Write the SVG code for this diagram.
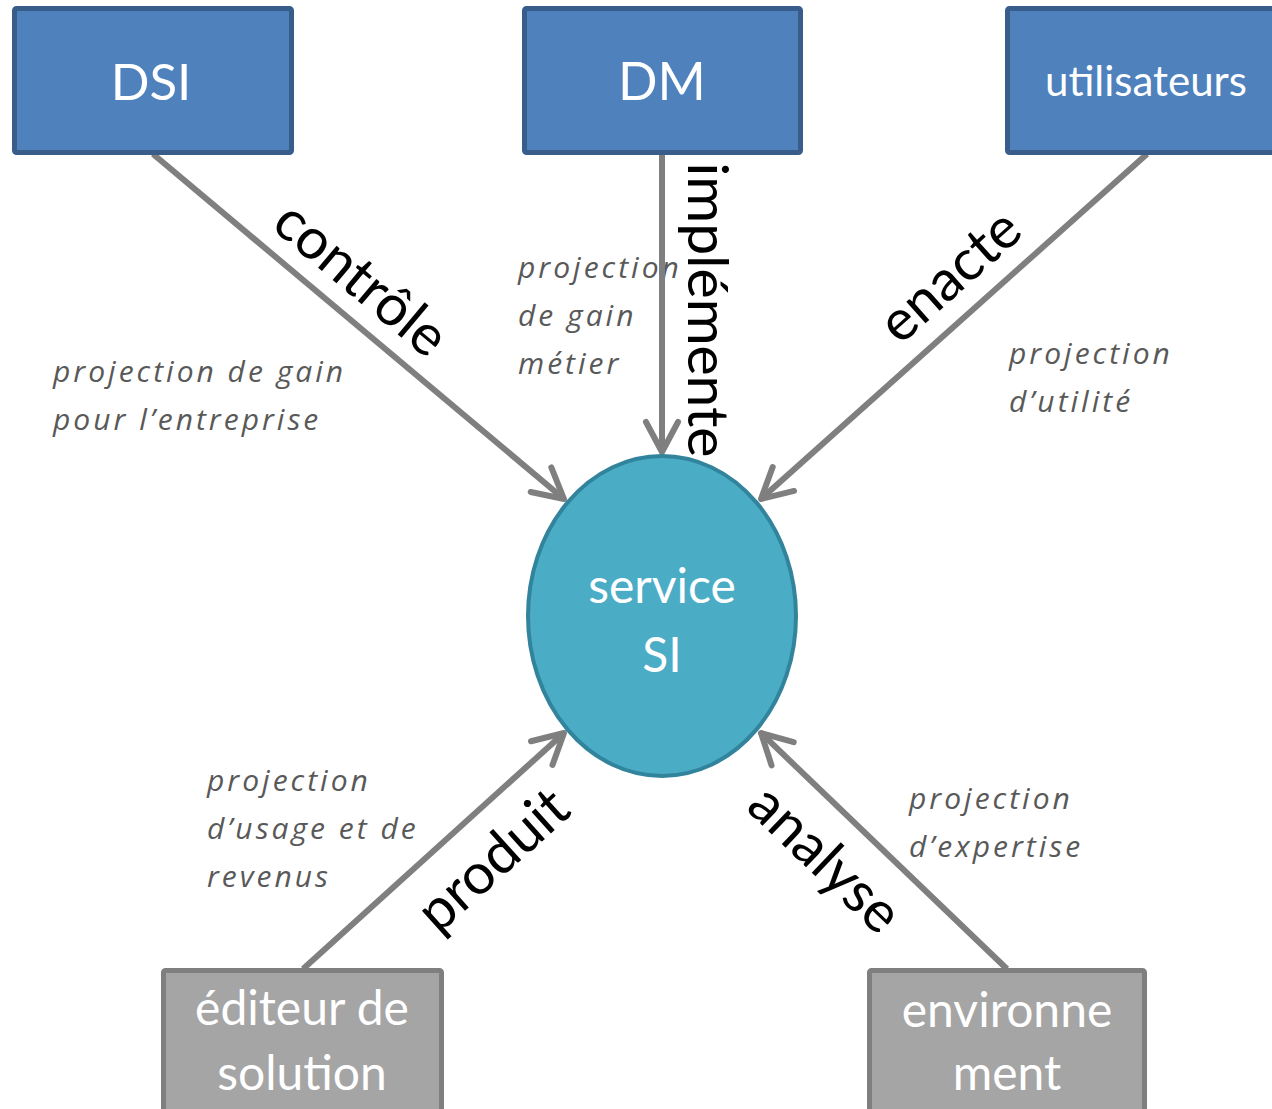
<svg xmlns="http://www.w3.org/2000/svg" width="1272" height="1109" viewBox="0 0 1272 1109">
  <style>
    .blue { fill: #4f81bd; stroke: #385d8a; stroke-width: 5; }
    .grey { fill: #a5a5a5; stroke: #7f7f7f; stroke-width: 5; }
    .core { fill: #4bacc6; stroke: #31849b; stroke-width: 4; }
    .node-text { font-family: Lato, "Liberation Sans", sans-serif; fill: #ffffff; text-anchor: middle; }
    .edge { stroke: #7f7f7f; stroke-width: 6; fill: none; }
    .verb { font-family: Lato, "Liberation Sans", sans-serif; font-size: 57px; fill: #000000; text-anchor: middle; }
    .note { font-family: "Open Sans", "Liberation Sans", sans-serif; font-style: italic; font-size: 30px; letter-spacing: 3px; fill: #595959; }
  </style>
  <defs>
    <marker id="chevron" markerUnits="userSpaceOnUse" markerWidth="60" markerHeight="60" refX="0" refY="0" viewBox="-40 -30 60 60" orient="auto" overflow="visible">
      <path d="M -30,-16 L 0,0 L -30,16" fill="none" stroke="#7f7f7f" stroke-width="6" stroke-linecap="round" stroke-linejoin="round"/>
    </marker>
  </defs>

  <!-- edge labels (behind the central ellipse) -->
  <g id="labels">
    <text class="verb" transform="translate(361,279) rotate(40)" y="19">contrôle</text>
    <text class="verb" transform="translate(707,310) rotate(90)" y="19">implémente</text>
    <text class="verb" transform="translate(950,276) rotate(-41.7)" y="19">enacte</text>
    <text class="verb" transform="translate(493,860) rotate(-42)" y="19">produit</text>
    <text class="verb" transform="translate(825,859) rotate(43.7)" y="19">analyse</text>

    <text class="note" x="53" y="382">projection de gain<tspan x="53" y="430">pour l’entreprise</tspan></text>
    <text class="note" x="518" y="278">projection<tspan x="518" y="326">de gain</tspan><tspan x="518" y="374">métier</tspan></text>
    <text class="note" x="1009" y="364">projection<tspan x="1009" y="412">d’utilité</tspan></text>
    <text class="note" x="207" y="791">projection<tspan x="207" y="839">d’usage et de</tspan><tspan x="207" y="887">revenus</tspan></text>
    <text class="note" x="909" y="809">projection<tspan x="909" y="857">d’expertise</tspan></text>
  </g>

  <!-- connectors -->
  <g id="connectors">
    <line class="edge" x1="153" y1="154" x2="564" y2="499" marker-end="url(#chevron)"/>
    <line class="edge" x1="662" y1="154" x2="662" y2="452" marker-end="url(#chevron)"/>
    <line class="edge" x1="1147" y1="154" x2="761" y2="499" marker-end="url(#chevron)"/>
    <line class="edge" x1="303" y1="969" x2="564" y2="733" marker-end="url(#chevron)"/>
    <line class="edge" x1="1007" y1="969" x2="761" y2="733" marker-end="url(#chevron)"/>
  </g>

  <g id="node-dsi">
    <rect class="blue" x="14.5" y="8.5" width="277" height="144" rx="2"/>
    <text class="node-text" x="151" y="100" font-size="51">DSI</text>
  </g>
  <g id="node-dm">
    <rect class="blue" x="524.5" y="8.5" width="276" height="144" rx="2"/>
    <text class="node-text" x="662" y="100" font-size="52">DM</text>
  </g>
  <g id="node-utilisateurs">
    <rect class="blue" x="1007.5" y="8.5" width="280" height="144" rx="2"/>
    <text class="node-text" x="1146" y="96" font-size="42">utilisateurs</text>
  </g>

  <g id="node-service-si">
    <ellipse class="core" cx="662" cy="616" rx="134" ry="160"/>
    <text class="node-text" x="662" y="603" font-size="48">service</text>
    <text class="node-text" x="662" y="672" font-size="48">SI</text>
  </g>

  <g id="node-editeur">
    <rect class="grey" x="163.5" y="970.5" width="278" height="160" rx="2"/>
    <text class="node-text" x="302" y="1025" font-size="48">éditeur de</text>
    <text class="node-text" x="302" y="1090" font-size="48">solution</text>
  </g>
  <g id="node-environnement">
    <rect class="grey" x="869.5" y="970.5" width="275" height="160" rx="2"/>
    <text class="node-text" x="1007" y="1027" font-size="48">environne</text>
    <text class="node-text" x="1007" y="1090" font-size="48">ment</text>
  </g>
</svg>
